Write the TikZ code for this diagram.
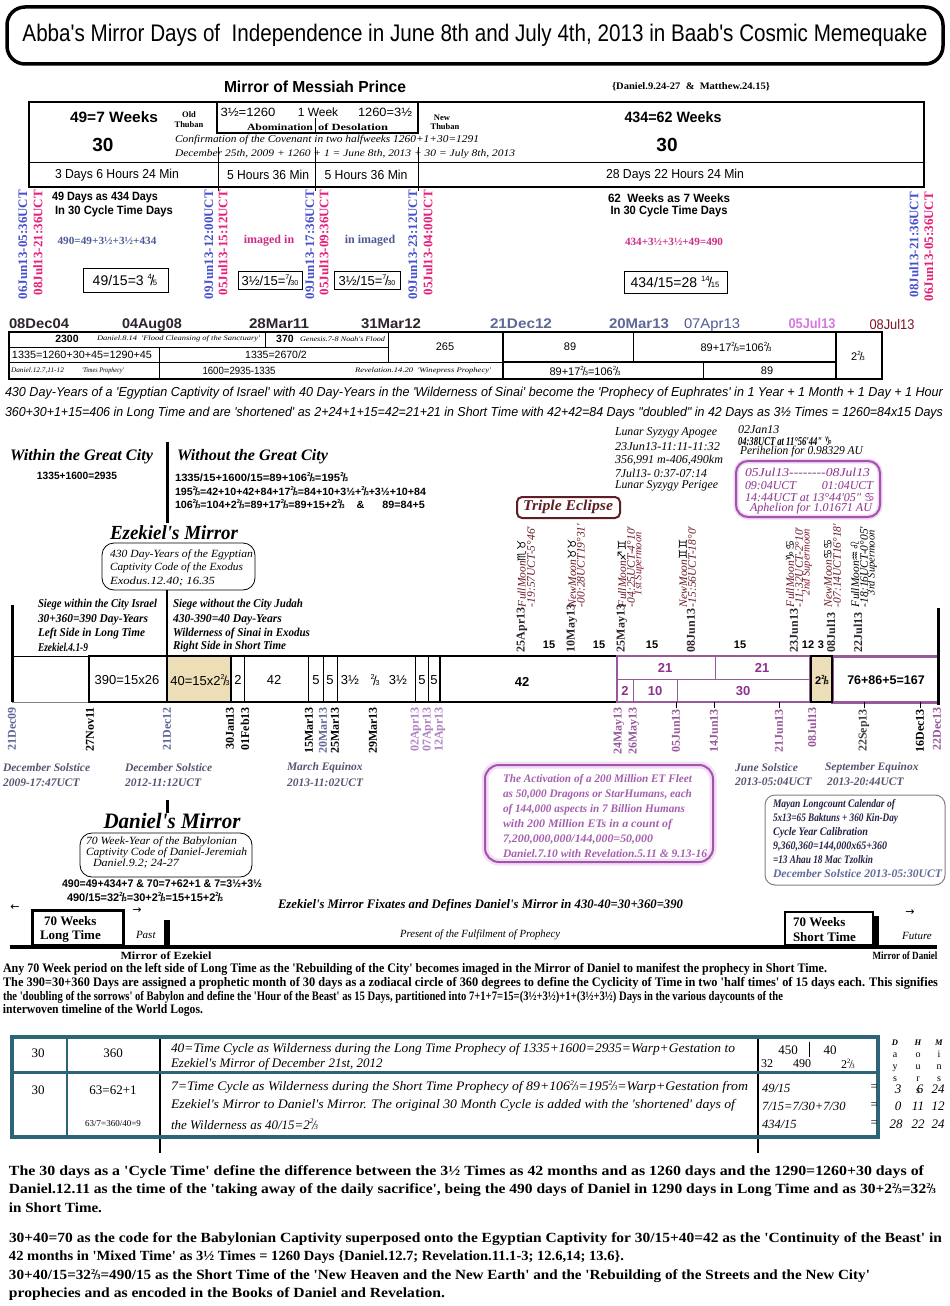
\documentclass[tikz,border=0pt]{standalone}
\usepackage{fontspec}
\usepackage{graphicx}
\setmainfont{Liberation Serif}
\newfontfamily\ar{Liberation Sans}
\newfontfamily\tm{Liberation Serif}
\newfontfamily\djv{DejaVu Sans}
\newsavebox\fitbox
\newcommand\fitx[2]{\sbox\fitbox{#2}\pgfmathsetmacro\fitf{#1/\the\wd\fitbox}\scalebox{\fitf}[1]{\usebox\fitbox}}
\newcommand\fs[1]{\fontsize{#1}{#1}\selectfont}
\newcommand\fr[2]{\raisebox{0.42em}{\scalebox{0.55}{#1}}\kern-0.1em/\kern-0.1em\scalebox{0.55}{#2}}
\definecolor{vblue}{RGB}{70,80,205}
\definecolor{vpink}{RGB}{230,30,120}
\definecolor{slate}{RGB}{80,90,150}
\definecolor{mag}{RGB}{205,45,135}
\definecolor{gblue}{RGB}{95,105,150}
\definecolor{lav}{RGB}{175,130,195}
\definecolor{lpurp}{RGB}{215,120,225}
\definecolor{dred}{RGB}{125,20,40}
\definecolor{purp}{RGB}{150,90,155}
\definecolor{purpt}{RGB}{140,50,140}
\definecolor{tanc}{RGB}{236,222,183}
\definecolor{tblue}{RGB}{45,100,120}
\definecolor{brn}{RGB}{95,30,35}
\definecolor{ecol}{RGB}{105,25,40}
\definecolor{grayt}{RGB}{85,85,115}
\definecolor{actc}{RGB}{165,95,175}
\definecolor{actb}{RGB}{160,85,170}
\definecolor{mayc}{RGB}{35,35,70}
\definecolor{dkc}{RGB}{45,35,45}
\tikzset{
  uct/.style={rotate=90, anchor=east, font=\tm\bfseries\fs{13}},
  dbelow/.style={rotate=90, anchor=east, font=\tm\bfseries\fs{12}},
  dabove/.style={rotate=90, anchor=west, font=\tm\bfseries\fs{12}, text=dkc},
  ecl/.style={rotate=90, anchor=west, font=\tm\itshape\fs{11.5}, text=ecol},
  supm/.style={rotate=90, anchor=west, font=\tm\itshape\fs{10.5}, text=dred},
  lw/.style={anchor=west},
  sol/.style={anchor=west, font=\tm\bfseries\itshape\fs{11.5}, text=grayt},
  tl/.style={font=\ar\fs{13}},
  ptx/.style={font=\ar\bfseries\fs{13}, text=purpt},
  drow/.style={anchor=base, font=\ar\bfseries\fs{14}},
}
\newcommand\dtx[1]{\fitx{60}{#1}}
\begin{document}
\begin{tikzpicture}[x=1pt,y=-1pt, every node/.style={inner sep=0pt, outer sep=0pt}]
\useasboundingbox[fill=white] (0,0) rectangle (950,1306);

% ---------- title ----------
\draw[line width=3.5pt, rounded corners=18pt] (7,7) rectangle (943,64);
\node (title) at (475,35) {\ar\fs{24}\fitx{905}{Abba's Mirror Days of \ Independence in June 8th and July 4th, 2013 in Baab's Cosmic Memequake}};

\node (mmp) at (315,87) {\ar\bfseries\fs{16}\fitx{182}{Mirror of Messiah Prince}};
\node (danref) at (691,87) {\tm\bfseries\fs{10}\fitx{158}{\{Daniel.9.24-27 \ \& \ Matthew.24.15\}}};

% ---------- top table ----------
\draw[line width=1.2pt] (29,102) rectangle (924,187);
\draw[line width=1pt] (29,162) -- (924,162);
\draw[line width=1.6pt] (217,102) rectangle (418,133);
\draw[line width=0.8pt] (315,118) -- (315,133);
\draw[line width=0.8pt] (315,147) -- (315,191);
\draw[line width=0.8pt] (218,147) -- (218,191);
\draw[line width=0.8pt] (418,147) -- (418,191);
\node (w49) at (114,117) {\ar\bfseries\fs{15}\fitx{88}{49=7 Weeks}};
\node (t30a) at (103,145) {\ar\bfseries\fs{19}30};
\node (old) at (189,115) {\tm\bfseries\fs{8.5}Old};
\node (thub1) at (189,125) {\tm\bfseries\fs{8.5}Thuban};
\node (ab1) at (248,112) {\ar\fs{12}\fitx{55}{3½=1260}};
\node (ab2) at (318,112) {\ar\fs{12}1 Week};
\node (ab3) at (385,112) {\ar\fs{12}\fitx{54}{1260=3½}};
\node (ab4) at (280,127) {\tm\bfseries\fs{9.5}\fitx{66}{Abomination}};
\node (ab5) at (353,127) {\tm\bfseries\fs{9.5}\fitx{70}{of Desolation}};
\node (newt) at (442,118) {\tm\bfseries\fs{8.5}New};
\node (thub2) at (445,127) {\tm\bfseries\fs{8.5}Thuban};
\node (w434) at (673,117) {\ar\bfseries\fs{15}\fitx{97}{434=62 Weeks}};
\node (t30b) at (667,145) {\ar\bfseries\fs{19}30};
\node[lw] (conf) at (175,140) {\tm\itshape\fs{10.5}\fitx{304}{Confirmation of the Covenant in two halfweeks 1260+1+30=1291}};
\node[lw] (dec25) at (175,154) {\tm\itshape\fs{10}\fitx{340}{December 25th, 2009 + 1260 + 1 = June 8th, 2013 + 30 = July 8th, 2013}};
\node (r1) at (117,175) {\ar\fs{13}\fitx{124}{3 Days 6 Hours 24 Min}};
\node (r2) at (268,175) {\ar\fs{13}\fitx{82}{5 Hours 36 Min}};
\node (r3) at (366,175) {\ar\fs{13}\fitx{83}{5 Hours 36 Min}};
\node (r4) at (675,175) {\ar\fs{13}\fitx{138}{28 Days 22 Hours 24 Min}};

% ---------- rotated UCT labels ----------
\node[uct, text=vblue] (u1) at (23,190) {06Jun13-05:36UCT};
\node[uct, text=vpink] (u2) at (38,190) {08Jul13-21:36UCT};
\node[uct, text=vblue] (u3) at (209,190) {09Jun13-12:00UCT};
\node[uct, text=vpink] (u4) at (223,190) {05Jul13-15:12UCT};
\node[uct, text=vblue] (u5) at (310,190) {09Jun13-17:36UCT};
\node[uct, text=vpink] (u6) at (324,190) {05Jul13-09:36UCT};
\node[uct, text=vblue] (u7) at (413,190) {09Jun13-23:12UCT};
\node[uct, text=vpink] (u8) at (428,190) {05Jul13-04:00UCT};
\node[uct, text=vblue] (u9) at (914,192) {08Jul13-21:36UCT};
\node[uct, text=vpink] (u10) at (929,192) {06Jun13-05:36UCT};

\node (d49a) at (105,198) {\ar\bfseries\fs{12}\fitx{106}{49 Days as 434 Days}};
\node (d49b) at (114,211) {\ar\bfseries\fs{12}\fitx{118}{In 30 Cycle Time Days}};
\node[text=slate] (eq490) at (107,241) {\tm\bfseries\fs{11}\fitx{99}{490=49+3½+3½+434}};
\draw[line width=1pt] (83,268) rectangle (168,292);
\node (b4915) at (125,280) {\ar\fs{14}49/15=3 \fr{4}{5}};
\node[text=mag] (img1) at (269,241) {\tm\bfseries\fs{12}imaged in};
\draw[line width=1pt] (238,271) rectangle (302,289);
\node (b35a) at (270,280) {\ar\fs{13}3½/15=\fr{7}{30}};
\node[text=slate] (img2) at (370,241) {\tm\bfseries\fs{12}in imaged};
\draw[line width=1pt] (334,271) rectangle (400,289);
\node (b35b) at (367,280) {\ar\fs{13}3½/15=\fr{7}{30}};
\node (w62a) at (669,198) {\ar\bfseries\fs{12}\fitx{122}{62 \ Weeks as 7 Weeks}};
\node (w62b) at (669,211) {\ar\bfseries\fs{12}\fitx{117}{In 30 Cycle Time Days}};
\node[text=mag] (eq434) at (674,242) {\tm\bfseries\fs{11}\fitx{98}{434+3½+3½+49=490}};
\draw[line width=1pt] (624,271) rectangle (727,293);
\node (b434) at (675,282) {\ar\fs{14}434/15=28 \fr{14}{15}};

% ---------- date row ----------
\node[drow, text=dkc] (dr1) at (39,328) {\dtx{08Dec04}};
\node[drow, text=dkc] (dr2) at (152,328) {\dtx{04Aug08}};
\node[drow, text=dkc] (dr3) at (279,328) {\dtx{28Mar11}};
\node[drow, text=dkc] (dr4) at (391,328) {\dtx{31Mar12}};
\node[drow, text=gblue] (dr5) at (521,328) {\fitx{62}{21Dec12}};
\node[drow, text=gblue] (dr6) at (639,328) {\dtx{20Mar13}};
\node[drow, text=slate] (dr7) at (712,328) {\mdseries\fitx{56}{07Apr13}};
\node[drow, text=lpurp] (dr8) at (812,328) {\fitx{47}{05Jul13}};
\node[drow, text=dred] (dr9) at (892,329) {\mdseries\fitx{45}{08Jul13}};

% ---------- second table ----------
\draw[line width=1.5pt] (9,332) rectangle (836,379);
\draw[line width=1pt] (9,347) -- (388,347);
\draw[line width=1pt] (9,362) -- (503,362);
\draw[line width=2.2pt] (503,362) -- (836,362);
\draw[line width=2.2pt] (503,379) -- (836,379);
\draw[line width=1pt] (159,347) -- (159,379);
\draw[line width=1pt] (265,332) -- (265,347);
\draw[line width=1pt] (388,332) -- (388,362);
\draw[line width=1.5pt] (503,332) -- (503,379);
\draw[line width=1pt] (633,332) -- (633,362);
\draw[line width=1pt] (703,362) -- (703,379);
\draw[line width=2.5pt] (836,332) rectangle (882,379);
\node (c2300) at (67,339) {\ar\bfseries\fs{10.5}2300};
\node[lw] (cdan814) at (97,339) {\tm\itshape\fs{7}\fitx{163}{Daniel.8.14 \ 'Flood Cleansing of the Sanctuary'}};
\node (c370) at (285,339) {\ar\bfseries\fs{10.5}370};
\node[lw] (cgen) at (300,339) {\tm\itshape\fs{7}\fitx{85}{Genesis.7-8 Noah's Flood}};
\node (c265) at (445,347) {\ar\fs{11}265};
\node (c89a) at (570,347) {\ar\fs{11}89};
\node (c89b) at (736,347) {\ar\fs{11}89+17\fr{2}{3}=106\fr{2}{3}};
\node (c223) at (858,356) {\ar\fs{11}2\fr{2}{3}};
\node[lw] (c1335a) at (12,355) {\ar\fs{10.5}\fitx{140}{1335=1260+30+45=1290+45}};
\node (c1335b) at (276,355) {\ar\fs{10.5}1335=2670/2};
\node[lw] (cdan12) at (11,371) {\tm\itshape\fs{7}\fitx{53}{Daniel.12.7,11-12}};
\node[lw] (ctimes) at (82,371) {\tm\itshape\fs{7}\fitx{42}{'Times Prophecy'}};
\node (c1600) at (239,371) {\ar\fs{10.5}\fitx{73}{1600=2935-1335}};
\node[lw] (crev) at (355,371) {\tm\itshape\fs{7}\fitx{136}{Revelation.14.20 \ 'Winepress Prophecy'}};
\node (c89c) at (585,371) {\ar\fs{11}89+17\fr{2}{3}=106\fr{2}{3}};
\node (c89d) at (767,371) {\ar\fs{11}89};

% ---------- 430 lines ----------
\node[lw] (p430a) at (5,393) {\ar\itshape\fs{13}\fitx{938}{430 Day-Years of a 'Egyptian Captivity of Israel' with 40 Day-Years in the 'Wilderness of Sinai' become the 'Prophecy of Euphrates' in 1 Year + 1 Month + 1 Day + 1 Hour}};
\node[lw] (p430b) at (5,413) {\ar\itshape\fs{13}\fitx{938}{360+30+1+15=406 in Long Time and are 'shortened' as 2+24+1+15=42=21+21 in Short Time with 42+42=84 Days "doubled" in 42 Days as 3½ Times = 1260=84x15 Days}};

% ---------- within / without ----------
\node[lw] (within) at (10,457) {\tm\bfseries\itshape\fs{16}\fitx{143}{Within the Great City}};
\node[lw] (wc1) at (37,476) {\ar\bfseries\fs{10.5}\fitx{80}{1335+1600=2935}};
\draw[line width=3pt] (167,442) -- (167,523);
\node[lw] (without) at (177,457) {\tm\bfseries\itshape\fs{16}\fitx{151}{Without the Great City}};
\node[lw] (wo1) at (175,477) {\ar\bfseries\fs{10.5}\fitx{173}{1335/15+1600/15=89+106\fr{2}{3}=195\fr{2}{3}}};
\node[lw] (wo2) at (175,491) {\ar\bfseries\fs{10.5}\fitx{251}{195\fr{2}{3}=42+10+42+84+17\fr{2}{3}=84+10+3½+\fr{2}{3}+3½+10+84}};
\node[lw] (wo3) at (175,504) {\ar\bfseries\fs{10.5}\fitx{250}{106\fr{2}{3}=104+2\fr{2}{3}=89+17\fr{2}{3}=89+15+2\fr{2}{3} \ \ \ \& \ \ \ \ \ 89=84+5}};

% ---------- Ezekiel's mirror ----------
\node (ezm) at (174,533) {\tm\bfseries\itshape\fs{20}\fitx{128}{Ezekiel's Mirror}};
\draw[line width=0.8pt, rounded corners=12pt] (102,543) rectangle (255,590);
\node[lw] (ez1) at (110,555) {\tm\itshape\fs{11}\fitx{143}{430 Day-Years of the Egyptian}};
\node[lw] (ez2) at (110,568) {\tm\itshape\fs{11}\fitx{133}{Captivity Code of the Exodus}};
\node[lw] (ez3) at (110,582) {\tm\itshape\fs{11}\fitx{105}{Exodus.12.40; 16.35}};
\draw[line width=2.5pt] (167,590) -- (167,656);
\draw[line width=3pt] (12,605) -- (12,702);
\node[lw] (sw1) at (38,605) {\tm\bfseries\itshape\fs{12}\fitx{119}{Siege within the City Israel}};
\node[lw] (sw2) at (38,620) {\tm\bfseries\itshape\fs{12}\fitx{110}{30+360=390 Day-Years}};
\node[lw] (sw3) at (38,634) {\tm\bfseries\itshape\fs{12}\fitx{107}{Left Side in Long Time}};
\node[lw] (sw4) at (38,647) {\tm\bfseries\itshape\fs{12}\fitx{50}{Ezekiel.4.1-9}};
\node[lw] (so1) at (173,605) {\tm\bfseries\itshape\fs{12}\fitx{130}{Siege without the City Judah}};
\node[lw] (so2) at (173,620) {\tm\bfseries\itshape\fs{12}\fitx{109}{430-390=40 Day-Years}};
\node[lw] (so3) at (173,634) {\tm\bfseries\itshape\fs{12}\fitx{137}{Wilderness of Sinai in Exodus}};
\node[lw] (so4) at (173,647) {\tm\bfseries\itshape\fs{12}\fitx{113}{Right Side in Short Time}};

% ---------- lunar / perihelion ----------
\node[lw] (lu1) at (615,433) {\tm\itshape\fs{12}\fitx{102}{Lunar Syzygy Apogee}};
\node[lw] (lu2) at (615,447) {\tm\itshape\fs{12}\fitx{105}{23Jun13-11:11-11:32}};
\node[lw] (lu3) at (615,460) {\tm\itshape\fs{12}\fitx{108}{356,991 m-406,490km}};
\node[lw] (lu4) at (615,473) {\tm\itshape\fs{12}\fitx{92}{7Jul13- 0:37-07:14}};
\node[lw] (lu5) at (615,486) {\tm\itshape\fs{12}\fitx{103}{Lunar Syzygy Perigee}};
\node[lw] (pe1) at (738,430) {\tm\itshape\fs{12}02Jan13};
\node[lw] (pe2) at (738,441) {\tm\bfseries\itshape\fs{12}\fitx{94}{04:38UCT at 11°56'44" {\djv\bfseries ♑}}};
\node[lw] (pe3) at (740,452) {\tm\itshape\fs{12}\fitx{123}{Perihelion for 0.98329 AU}};
\draw[line width=5pt, lpurp!30, rounded corners=12pt] (736,461) rectangle (880,517);
\draw[line width=2pt, actb, rounded corners=12pt] (736,461) rectangle (880,517);
\node[lw, text=purpt] (ap1) at (745,472) {\tm\itshape\fs{12}\fitx{125}{05Jul13{-}{-}{-}{-}{-}{-}{-}{-}08Jul13}};
\node[lw, text=purpt] (ap2) at (745,486) {\tm\itshape\fs{12}\fitx{128}{09:04UCT \hspace{20pt} 01:04UCT}};
\node[lw, text=purpt] (ap3) at (745,498) {\tm\itshape\fs{12}\fitx{130}{14:44UCT at 13°44'05" {\djv ♋}}};
\node[lw, text=purpt] (ap4) at (750,509) {\tm\itshape\fs{12}\fitx{122}{Aphelion for 1.01671 AU}};

% ---------- triple eclipse ----------
\draw[line width=2pt, brn, rounded corners=5pt] (517,497) rectangle (620,518);
\node[text=brn] (trip) at (568,507) {\tm\bfseries\itshape\fs{15}\fitx{90}{Triple Eclipse}};

\node[ecl] (e1a) at (522,607) {FullMoon{\djv\bfseries\color{black}♏♉}};
\node[ecl] (e1b) at (531,607) {-19:57UCT-5°46'};
\node[ecl] (e2a) at (572,607) {NewMoon{\djv\bfseries\color{black}♉♉}};
\node[ecl] (e2b) at (581,607) {-00:28UCT19°31'};
\node[ecl] (e3a) at (622,607) {FullMoon{\djv\bfseries\color{black}♐♊}};
\node[ecl] (e3b) at (631,607) {-04:25UCT-4°10'};
\node[supm] (e3c) at (639,595) {1st Supermoon};
\node[ecl] (e4a) at (683,607) {NewMoon{\djv\bfseries\color{black}♊♊}};
\node[ecl] (e4b) at (692,607) {-15:56UCT-18°0'};
\node[ecl] (e5a) at (790,607) {FullMoon{\djv\bfseries\color{black}♑♋}};
\node[ecl] (e5b) at (799,607) {-11:32UCT-2°10'};
\node[supm] (e5c) at (807,595) {2nd Supermoon};
\node[ecl] (e6a) at (828,607) {NewMoon{\djv\bfseries\color{black}♋♋}};
\node[ecl] (e6b) at (837,607) {-07:14UCT16°18'};
\node[ecl, text=black] (e7a) at (855,607) {FullMoon{\djv\bfseries ♒♌}};
\node[ecl, text=black] (e7b) at (864,607) {-18:16UCT-0°05'};
\node[supm, text=black] (e7c) at (872,595) {3rd Supermoon};

% dates above timeline
\node[dabove] (da1) at (522,652) {25Apr13};
\node[dabove] (da2) at (572,652) {10May13};
\node[dabove] (da3) at (622,652) {25May13};
\node[dabove] (da4) at (691,652) {08Jun13};
\node[dabove] (da5) at (794,652) {23Jun13};
\node[dabove] (da6) at (831,652) {08Jul13};
\node[dabove] (da7) at (858,652) {22Jul13};
\node (n15a) at (549,645) {\ar\bfseries\fs{11}15};
\node (n15b) at (599,645) {\ar\bfseries\fs{11}15};
\node (n15c) at (652,645) {\ar\bfseries\fs{11}15};
\node (n15d) at (740,645) {\ar\bfseries\fs{11}15};
\node (n12) at (808,645) {\ar\bfseries\fs{11}12};
\node (n3) at (821,645) {\ar\bfseries\fs{11}3};

% ---------- timeline ----------
\draw[line width=1pt] (12,656) -- (89,656);
\draw[line width=1pt, gray] (12,702) -- (89,702);
\draw[line width=2.5pt] (89,656) rectangle (167,702);
\draw[line width=2.5pt, fill=tanc] (167,656) rectangle (231,702);
\draw[line width=1.2pt] (231,656) -- (440,656);
\draw[line width=2pt] (231,702) -- (440,702);
\foreach \xx in {244,308,323,337,415,428} \draw[line width=0.8pt] (\xx,656) -- (\xx,702);
\draw[line width=2.5pt] (440,656) rectangle (617,702);
\draw[line width=1.8pt, purp] (617,656) rectangle (810,702);
\draw[line width=1pt, purp] (617,679) -- (810,679);
\draw[line width=1pt, purp] (715,656) -- (715,679);
\draw[line width=1pt, purp] (633,679) -- (633,702);
\draw[line width=1pt, purp] (677,679) -- (677,702);
\draw[line width=3pt, purp] (832,656) rectangle (938,702);
\draw[line width=2.5pt, fill=tanc] (811,656) rectangle (832,702);
\draw[line width=3pt] (938,608) -- (938,705);
\node[tl] (tl1) at (127,680) {390=15x26};
\node[tl] (tl2) at (200,680) {40=15x2\fr{2}{3}};
\node[tl] (tl3) at (238,680) {2};
\node[tl] (tl4) at (274,680) {42};
\node[tl] (tl5) at (316,680) {5};
\node[tl] (tl6) at (330,680) {5};
\node[tl] (tl7) at (350,680) {3½};
\node[tl] (tl8) at (375,680) {\fr{2}{3}};
\node[tl] (tl9) at (398,680) {3½};
\node[tl] (tl10) at (422,680) {5};
\node[tl] (tl11) at (434,680) {5};
\node[tl] (tl12) at (522,682) {\bfseries 42};
\node[ptx] (tp1) at (665,668) {21};
\node[ptx] (tp2) at (762,668) {21};
\node[ptx] (tp3) at (625,691) {2};
\node[ptx] (tp4) at (655,691) {10};
\node[ptx] (tp5) at (743,691) {30};
\node (tl13) at (822,680) {\ar\bfseries\fs{11}2\fr{2}{3}};
\node (tl14) at (886,680) {\ar\bfseries\fs{12.5}76+86+5=167};

% dates below timeline
\foreach \xx in {676,714,779,864,920} \draw[line width=0.8pt] (\xx,702) -- (\xx,708);
\node[dbelow, text=gblue] (db1) at (12,707) {21Dec09};
\node[dbelow] (db2) at (90,707) {27Nov11};
\node[dbelow, text=gblue] (db3) at (167,707) {21Dec12};
\node[dbelow] (db4) at (230,707) {30Jan13};
\node[dbelow] (db5) at (245,707) {01Feb13};
\node[dbelow] (db6) at (309,707) {15Mar13};
\node[dbelow, text=gblue] (db7) at (323,707) {20Mar13};
\node[dbelow] (db8) at (335,707) {25Mar13};
\node[dbelow] (db9) at (373,707) {29Mar13};
\node[dbelow, text=lav] (db10) at (416,707) {02Apr13};
\node[dbelow, text=lav] (db11) at (428,707) {07Apr13};
\node[dbelow, text=lav] (db12) at (440,707) {12Apr13};
\node[dbelow, text=purp] (db13) at (619,707) {24May13};
\node[dbelow, text=purp] (db14) at (634,707) {26May13};
\node[dbelow, text=purp] (db15) at (676,709) {05Jun13};
\node[dbelow, text=purp] (db16) at (714,709) {14Jun13};
\node[dbelow, text=purp] (db17) at (779,709) {21Jun13};
\node[dbelow, text=purp] (db18) at (812,707) {08Jul13};
\node[dbelow, text=darkgray] (db19) at (864,709) {22Sep13};
\node[dbelow] (db20) at (920,709) {16Dec13};
\node[dbelow, text=purp] (db21) at (937,707) {22Dec13};

% solstices
\node[sol] (so_a1) at (3,768) {December Solstice};
\node[sol] (so_a2) at (3,783) {2009-17:47UCT};
\node[sol] (so_b1) at (125,768) {December Solstice};
\node[sol] (so_b2) at (125,783) {2012-11:12UCT};
\node[sol] (so_c1) at (287,768) {March Equinox};
\node[sol] (so_c2) at (287,783) {2013-11:02UCT};
\node[sol] (so_d1) at (735,768) {June Solstice};
\node[sol] (so_d2) at (735,782) {2013-05:04UCT};
\node[sol] (so_e1) at (825,768) {September Equinox};
\node[sol] (so_e2) at (827,782) {2013-20:44UCT};

% ---------- activation box ----------
\draw[line width=7pt, lpurp!25, rounded corners=14pt] (485,765) rectangle (713,862);
\draw[line width=2pt, actb, rounded corners=14pt] (485,765) rectangle (713,862);
\node[lw, text=actc] (ac1) at (503,780) {\tm\bfseries\itshape\fs{11.5}\fitx{189}{The Activation of a 200 Million ET Fleet}};
\node[lw, text=actc] (ac2) at (503,795) {\tm\bfseries\itshape\fs{11.5}\fitx{189}{as 50,000 Dragons or StarHumans, each}};
\node[lw, text=actc] (ac3) at (503,810) {\tm\bfseries\itshape\fs{11.5}\fitx{182}{of 144,000 aspects in 7 Billion Humans}};
\node[lw, text=actc] (ac4) at (503,825) {\tm\bfseries\itshape\fs{11.5}\fitx{169}{with 200 Million ETs in a count of}};
\node[lw, text=actc] (ac5) at (503,840) {\tm\bfseries\itshape\fs{11.5}\fitx{150}{7,200,000,000/144,000=50,000}};
\node[lw, text=actc] (ac6) at (503,854) {\tm\bfseries\itshape\fs{11.5}\fitx{204}{Daniel.7.10 with Revelation.5.11 \& 9.13-16}};

% ---------- Mayan box ----------
\draw[line width=1pt, gray, rounded corners=10pt] (765,795) rectangle (945,885);
\node[lw, text=mayc] (my1) at (773,805) {\tm\bfseries\itshape\fs{11.5}\fitx{122}{Mayan Longcount Calendar of}};
\node[lw, text=mayc] (my2) at (773,819) {\tm\bfseries\itshape\fs{11.5}\fitx{125}{5x13=65 Baktuns + 360 Kin-Day}};
\node[lw, text=mayc] (my3) at (773,833) {\tm\bfseries\itshape\fs{11.5}\fitx{95}{Cycle Year Calibration}};
\node[lw, text=mayc] (my4) at (773,847) {\tm\bfseries\itshape\fs{11.5}\fitx{114}{9,360,360=144,000x65+360}};
\node[lw, text=mayc] (my5) at (773,860) {\tm\bfseries\itshape\fs{11.5}\fitx{100}{=13 Ahau 18 Mac Tzolkin}};
\node[lw, text=gblue] (my6) at (773,874) {\tm\bfseries\itshape\fs{11.5}\fitx{169}{December Solstice 2013-05:30UCT}};

% ---------- Daniel's mirror ----------
\draw[line width=3pt] (167,800) -- (167,813);
\node (dm) at (172,821) {\tm\bfseries\itshape\fs{22}\fitx{137}{Daniel's Mirror}};
\draw[line width=0.8pt, rounded corners=12pt] (80,833) rectangle (252,877);
\node[lw] (dmb1) at (86,842) {\tm\itshape\fs{11}\fitx{151}{70 Week-Year of the Babylonian}};
\node[lw] (dmb2) at (86,853) {\tm\itshape\fs{11}\fitx{161}{Captivity Code of Daniel-Jeremiah}};
\node[lw] (dmb3) at (93,864) {\tm\itshape\fs{11}\fitx{86}{Daniel.9.2; 24-27}};
\node[lw] (dmq1) at (62,884) {\ar\bfseries\fs{11}\fitx{200}{490=49+434+7 \& 70=7+62+1 \& 7=3½+3½}};
\node[lw] (dmq2) at (67,897) {\ar\bfseries\fs{11}\fitx{156}{490/15=32\fr{2}{3}=30+2\fr{2}{3}=15+15+2\fr{2}{3}}};
\node[lw] (fix) at (278,905) {\tm\bfseries\itshape\fs{13}\fitx{405}{Ezekiel's Mirror Fixates and Defines Daniel's Mirror in 430-40=30+360=390}};

% ---------- bottom bar ----------
\node (arl) at (15,908) {\djv\fs{11}←};
\draw[line width=3pt] (32,910) rectangle (123,945);
\node[lw] (lt1) at (44,921) {\tm\bfseries\fs{13}70 Weeks};
\node[lw] (lt2) at (40,936) {\tm\bfseries\fs{13}Long Time};
\node (arr1) at (137,911) {\djv\fs{11}→};
\node[lw] (past) at (136,935) {\tm\itshape\fs{11}Past};
\draw[line width=6pt] (167,920) -- (167,945);
\node[lw] (pres) at (400,935) {\tm\itshape\fs{11}\fitx{160}{Present of the Fulfilment of Prophecy}};
\draw[line width=2pt] (785,912) rectangle (873,945);
\draw[line width=5pt] (876,916) -- (876,945);
\node[lw] (st1) at (793,922) {\tm\bfseries\fs{13}70 Weeks};
\node[lw] (st2) at (793,937) {\tm\bfseries\fs{13}Short Time};
\node (arr2) at (910,913) {\djv\fs{11}→};
\node (fut) at (917,936) {\tm\itshape\fs{11}Future};
\draw[line width=4pt] (10,947) -- (937,947);
\node (moe) at (166,956) {\tm\bfseries\fs{11}\fitx{91}{Mirror of Ezekiel}};
\node (mod) at (905,956) {\tm\bfseries\fs{11}\fitx{65}{Mirror of Daniel}};

% ---------- paragraph 1 ----------
\node[lw] (pa1) at (3,969) {\tm\bfseries\fs{13}\fitx{824}{Any 70 Week period on the left side of Long Time as the 'Rebuilding of the City' becomes imaged in the Mirror of Daniel to manifest the prophecy in Short Time.}};
\node[lw] (pa2) at (3,983) {\tm\bfseries\fs{13}\fitx{935}{The 390=30+360 Days are assigned a prophetic month of 30 days as a zodiacal circle of 360 degrees to define the Cyclicity of Time in two 'half times' of 15 days each. This signifies}};
\node[lw] (pa3) at (3,997) {\tm\bfseries\fs{13}\fitx{780}{the 'doubling of the sorrows' of Babylon and define the 'Hour of the Beast' as 15 Days, partitioned into 7+1+7=15=(3½+3½)+1+(3½+3½) Days in the various daycounts of the}};
\node[lw] (pa4) at (3,1010) {\tm\bfseries\fs{13}\fitx{200}{interwoven timeline of the World Logos.}};

% ---------- bottom table ----------
\draw[line width=1.5pt] (160,1037) -- (160,1153);
\draw[line width=1.5pt] (758,1037) -- (758,1153);
\draw[line width=3.5pt, tblue] (12,1037) rectangle (878,1137);
\draw[line width=3pt, tblue] (12,1072) -- (878,1072);
\draw[line width=1.5pt, tblue] (67,1037) -- (67,1137);
\draw[line width=0.8pt] (809,1042) -- (809,1057);
\node (tb1) at (38,1053) {\tm\fs{13}30};
\node (tb2) at (113,1053) {\tm\fs{13}360};
\node (tb3) at (38,1090) {\tm\fs{13}30};
\node (tb4) at (113,1090) {\tm\fs{13}63=62+1};
\node (tb5) at (113,1124) {\tm\fs{9}63/7=360/40=9};
\node[lw] (tx1) at (171,1049) {\tm\itshape\fs{13}\fitx{564}{40=Time Cycle as Wilderness during the Long Time Prophecy of 1335+1600=2935=Warp+Gestation to}};
\node[lw] (tx2) at (171,1064) {\tm\itshape\fs{13}Ezekiel's Mirror of December 21st, 2012};
\node[lw] (tx3) at (171,1087) {\tm\itshape\fs{13}\fitx{577}{7=Time Cycle as Wilderness during the Short Time Prophecy of 89+106\fr{2}{3}=195\fr{2}{3}=Warp+Gestation from}};
\node[lw] (tx4) at (171,1105) {\tm\itshape\fs{13}\fitx{564}{Ezekiel's Mirror to Daniel's Mirror. The original 30 Month Cycle is added with the 'shortened' days of}};
\node[lw] (tx5) at (171,1124) {\tm\itshape\fs{13}\fitx{147}{the Wilderness as 40/15=2\fr{2}{3}}};
\node (nu1) at (788,1050) {\tm\fs{13}450};
\node (nu2) at (830,1050) {\tm\fs{13}40};
\node (nu3) at (767,1064) {\tm\fs{12}32};
\node (nu4) at (802,1064) {\tm\fs{12}490};
\node (nu5) at (848,1064) {\tm\fs{12}2\fr{2}{3}};
\node[lw] (nv1) at (762,1088) {\tm\itshape\fs{12.5}49/15};
\node[lw] (nv2) at (762,1106) {\tm\itshape\fs{12.5}7/15=7/30+7/30};
\node[lw] (nv3) at (762,1124) {\tm\itshape\fs{12.5}434/15};
\node (eqa) at (874,1088) {\tm\itshape\fs{12.5}=};
\node (eqb) at (874,1106) {\tm\itshape\fs{12.5}=};
\node (eqc) at (874,1124) {\tm\itshape\fs{12.5}=};
\node[anchor=north, align=center] (dd) at (895,1040) {\tm\bfseries\itshape\fontsize{8.5}{6.6}\selectfont D\\a\\y\\s};
\node[anchor=north, align=center] (hh) at (918,1040) {\tm\bfseries\itshape\fontsize{8.5}{6.6}\selectfont H\\o\\u\\r\\s};
\node[anchor=north, align=center] (mm) at (939,1040) {\tm\bfseries\itshape\fontsize{8.5}{6.6}\selectfont M\\i\\n\\s};
\node (v11) at (898,1089) {\tm\itshape\fs{13}3};
\node (v12) at (920,1089) {\tm\itshape\fs{13}6};
\node (v13) at (938,1089) {\tm\itshape\fs{13}24};
\node (v21) at (898,1106) {\tm\itshape\fs{13}0};
\node (v22) at (918,1106) {\tm\itshape\fs{13}11};
\node (v23) at (938,1106) {\tm\itshape\fs{13}12};
\node (v31) at (896,1124) {\tm\itshape\fs{13}28};
\node (v32) at (918,1124) {\tm\itshape\fs{13}22};
\node (v33) at (938,1124) {\tm\itshape\fs{13}24};

% ---------- final paragraphs ----------
\node[lw] (pb1) at (9,1172) {\tm\bfseries\fs{14}\fitx{915}{The 30 days as a 'Cycle Time' define the difference between the 3½ Times as 42 months and as 1260 days and the 1290=1260+30 days of}};
\node[lw] (pb2) at (9,1190) {\tm\bfseries\fs{14}\fitx{927}{Daniel.12.11 as the time of the 'taking away of the daily sacrifice', being the 490 days of Daniel in 1290 days in Long Time and as 30+2\fr{2}{3}=32\fr{2}{3}}};
\node[lw] (pb3) at (9,1208) {\tm\bfseries\fs{14}\fitx{93}{in Short Time.}};
\node[lw] (pc1) at (9,1239) {\tm\bfseries\fs{14}\fitx{933}{30+40=70 as the code for the Babylonian Captivity superposed onto the Egyptian Captivity for 30/15+40=42 as the 'Continuity of the Beast' in}};
\node[lw] (pc2) at (9,1257) {\tm\bfseries\fs{14}\fitx{615}{42 months in 'Mixed Time' as 3½ Times = 1260 Days \{Daniel.12.7; Revelation.11.1-3; 12.6,14; 13.6\}.}};
\node[lw] (pc3) at (9,1276) {\tm\bfseries\fs{14}\fitx{861}{30+40/15=32\fr{2}{3}=490/15 as the Short Time of the 'New Heaven and the New Earth' and the 'Rebuilding of the Streets and the New City'}};
\node[lw] (pc4) at (9,1294) {\tm\bfseries\fs{14}\fitx{436}{prophecies and as encoded in the Books of Daniel and Revelation.}};
\end{tikzpicture}
\end{document}
